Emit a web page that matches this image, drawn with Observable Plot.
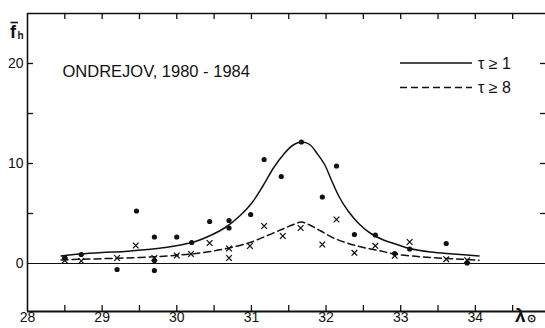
<!DOCTYPE html>
<html><head><meta charset="utf-8">
<script src="https://cdn.jsdelivr.net/npm/d3@7"></script>
<script src="https://cdn.jsdelivr.net/npm/@observablehq/plot@0.6"></script>
<style>
html,body{margin:0;padding:0;background:#fff;}
#chart{width:545px;height:328px;overflow:hidden;}
</style></head><body><div id="chart"></div>
<script>
// ---- data ----
const xTickValues = [28, 29, 30, 31, 32, 33, 34];
const xTickLabels = ["28", "29", "30", "31", "32", "33", "34"];
const xMinorTicks = [28.5, 29, 29.5, 30, 30.5, 31, 31.5, 32, 32.5, 33, 33.5, 34, 34.5];
const yTickValues = [0, 10, 20];
const yTickLabels = ["0", "10", "20"];
const yMinorTicks = [5, 10, 15, 20];

const titleText = "ONDREJOV, 1980 - 1984";
const seriesLabels = ["τ ≥ 1", "τ ≥ 8"];

// fitted curve tau >= 1 (solid)
const solidLambda = [28.45, 28.7, 29.0, 29.3, 29.6, 29.85, 30.05, 30.25, 30.45, 30.65, 30.85, 31.0, 31.15, 31.3, 31.43, 31.55, 31.67, 31.78, 31.88, 31.98, 32.08, 32.18, 32.3, 32.45, 32.6, 32.77, 32.95, 33.12, 33.4, 33.7, 34.05];
const solidF      = [0.75, 0.95, 1.1, 1.2, 1.4, 1.6, 1.85, 2.2, 2.8, 3.6, 4.8, 6.0, 7.7, 9.6, 10.9, 11.8, 12.15, 11.9, 11.0, 9.9, 8.2, 6.6, 5.2, 3.9, 3.0, 2.35, 1.9, 1.5, 1.15, 0.95, 0.75];

// fitted curve tau >= 8 (dashed)
const dashLambda = [28.45, 28.7, 29.0, 29.3, 29.7, 30.0, 30.2, 30.45, 30.7, 30.98, 31.2, 31.42, 31.58, 31.67, 31.78, 31.93, 32.1, 32.3, 32.5, 32.7, 32.92, 33.2, 33.5, 33.8, 34.05];
const dashF      = [0.35, 0.42, 0.48, 0.55, 0.67, 0.83, 0.95, 1.2, 1.55, 2.1, 2.75, 3.45, 3.95, 4.15, 3.85, 3.25, 2.55, 2.0, 1.6, 1.3, 0.95, 0.72, 0.55, 0.43, 0.33];

// observations tau >= 1 (dots)
const dotLambda = [28.5, 28.72, 29.2, 29.46, 29.7, 29.7, 29.7, 30.0, 30.2, 30.44, 30.7, 30.7, 30.99, 31.17, 31.4, 31.67, 31.95, 32.14, 32.38, 32.66, 32.92, 33.12, 33.61, 33.89];
const dotF      = [0.6, 0.9, -0.6, 5.25, 2.65, 0.3, -0.7, 2.65, 2.1, 4.2, 4.3, 3.55, 4.9, 10.4, 8.7, 12.15, 6.65, 9.75, 2.9, 2.85, 1.0, 1.45, 2.0, 0.05];

// observations tau >= 8 (crosses)
const crossLambda = [28.5, 28.72, 29.2, 29.45, 29.7, 30.0, 30.19, 30.44, 30.7, 30.7, 30.98, 31.17, 31.42, 31.66, 31.95, 32.14, 32.38, 32.66, 32.92, 33.12, 33.61, 33.89];
const crossF      = [0.3, 0.25, 0.55, 1.8, 0.55, 0.8, 0.95, 2.05, 1.5, 0.55, 1.75, 3.75, 2.75, 3.55, 1.9, 4.4, 1.07, 1.77, 0.77, 2.15, 0.43, 0.33];

// ---- build tables ----
const solid = solidLambda.map((x, i) => ({x, y: solidF[i]}));
const dashed = dashLambda.map((x, i) => ({x, y: dashF[i]}));
const dots = dotLambda.map((x, i) => ({x, y: dotF[i]}));
const crosses = crossLambda.map((x, i) => ({x, y: crossF[i]}));

const W = 545, H = 328, mL = 27, mR = 0, mT = 13, mB = 17;
const innerW = W - mL - mR, innerH = H - mT - mB;
const xDomain = [28, 34.94], yDomain = [-4.8, 25];
const ink = "#111";
const font = "'Liberation Sans', Arial, sans-serif";

const plot = Plot.plot({
  width: W, height: H,
  marginLeft: mL, marginRight: mR, marginTop: mT, marginBottom: mB,
  x: {domain: xDomain, axis: null},
  y: {domain: yDomain, axis: null},
  style: {background: "white", fontFamily: font, color: ink, overflow: "visible"},
  marks: [
    Plot.ruleY([0], {stroke: ink, strokeWidth: 1}),
    Plot.ruleX([xDomain[0]], {stroke: ink, strokeWidth: 1.6}),
    Plot.ruleY([yDomain[0]], {stroke: ink, strokeWidth: 2}),
    Plot.ruleY([yDomain[1]], {stroke: ink, strokeWidth: 1.5}),
    Plot.tickX(xMinorTicks, {x: d => d, insetTop: innerH - 6, stroke: ink, strokeWidth: 1.3}),
    Plot.tickX(xMinorTicks, {x: d => d, insetBottom: innerH - 6, stroke: ink, strokeWidth: 1.3}),
    Plot.tickY(yMinorTicks, {y: d => d, insetRight: innerW - 6, stroke: ink, strokeWidth: 1.3}),
    Plot.tickY(yMinorTicks, {y: d => d, insetLeft: innerW - 5, stroke: ink, strokeWidth: 1.3}),
    Plot.text(xTickValues, {x: d => d, text: (d, i) => xTickLabels[i], frameAnchor: "bottom", dy: 10, fontSize: 14, fill: ink}),
    Plot.text(yTickValues, {y: d => d, text: (d, i) => yTickLabels[i], frameAnchor: "left", dx: -4, textAnchor: "end", fontSize: 14, fill: ink}),
    Plot.text([titleText], {frameAnchor: "top-left", dx: 35, dy: 52, textAnchor: "start", fontSize: 16.5, fill: ink}),
    Plot.line(solid, {x: "x", y: "y", curve: "catmull-rom", stroke: ink, strokeWidth: 1.5}),
    Plot.line(dashed, {x: "x", y: "y", curve: "catmull-rom", stroke: ink, strokeWidth: 1.5, strokeDasharray: "7,4"}),
    Plot.dot(dots, {x: "x", y: "y", r: 2.6, fill: ink, stroke: "none"}),
    Plot.dot(crosses, {x: "x", y: "y", symbol: "times", r: 2.7, stroke: ink, strokeWidth: 1.3})
  ]
});

const svg = d3.select(plot);
// legend
const lg = svg.append("g").attr("fill", ink).attr("font-family", font).attr("text-anchor", "start");
[[63, null], [87.5, "7,4"]].forEach(([yy, dash], i) => {
  const l = lg.append("line").attr("x1", 400).attr("x2", 472).attr("y1", yy).attr("y2", yy)
    .attr("stroke", ink).attr("stroke-width", 1.5);
  if (dash) l.attr("stroke-dasharray", dash);
  lg.append("text").attr("x", 478).attr("y", yy).attr("dy", "0.35em")
    .attr("font-size", 16).text(seriesLabels[i]);
});
// y-axis label f-bar with subscript h
const yl = svg.append("g").attr("fill", ink).attr("font-family", font).attr("font-weight", "bold").attr("text-anchor", "start");
yl.append("text").attr("x", 10).attr("y", 38).attr("font-size", 18).text("f");
yl.append("line").attr("x1", 10.5).attr("x2", 18).attr("y1", 22.5).attr("y2", 22.5).attr("stroke", ink).attr("stroke-width", 1.6);
yl.append("text").attr("x", 17.5).attr("y", 38.5).attr("font-size", 10).text("h");
// x-axis label lambda sun
const xl = svg.append("text").attr("x", 515).attr("y", 322).attr("fill", ink).attr("text-anchor", "start")
  .attr("font-family", font).attr("font-weight", "bold").attr("font-size", 19).text("λ");
xl.append("tspan").attr("font-size", 11).attr("dx", 1).text("⊙");

document.getElementById("chart").appendChild(plot);
</script></body></html>
